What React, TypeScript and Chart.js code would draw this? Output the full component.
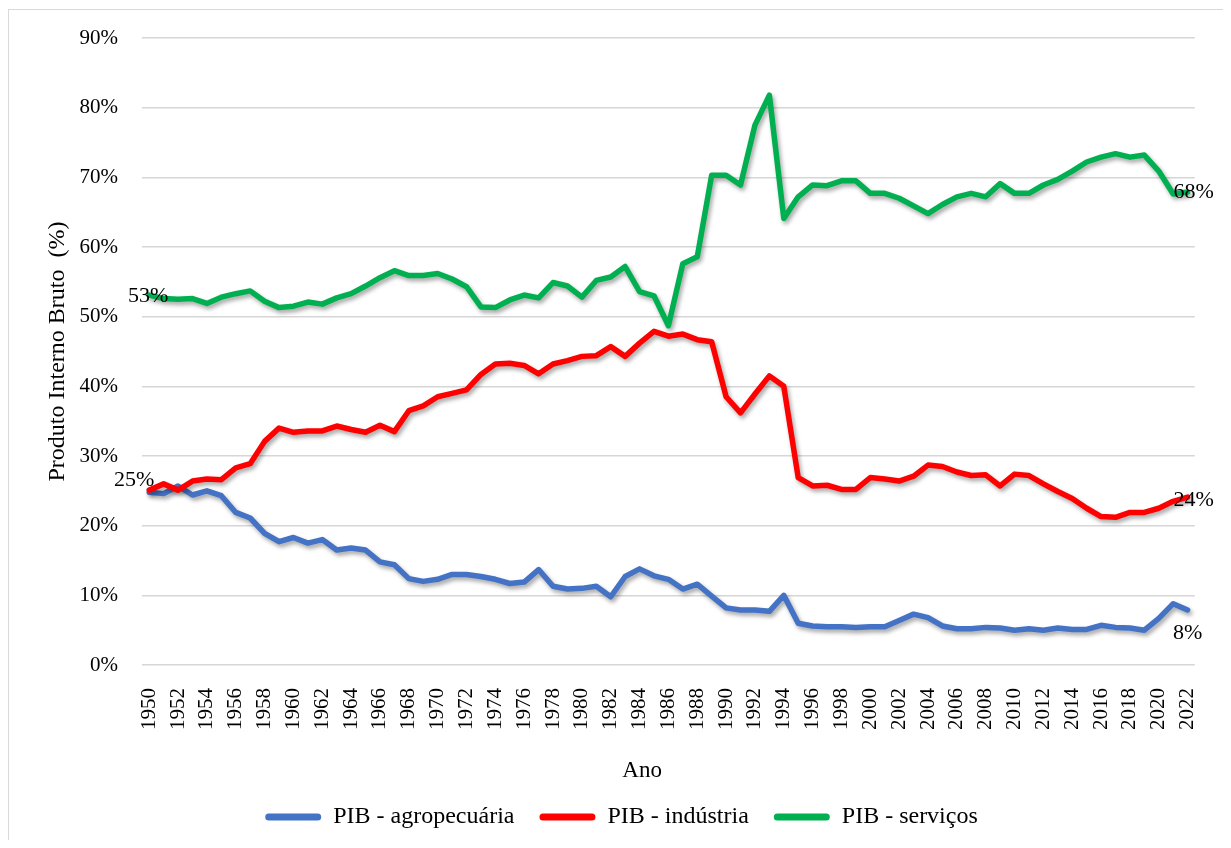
import React, { useEffect, useRef } from "react";
import { Chart, registerables } from "chart.js";

Chart.register(...registerables);

const FONT = "'Liberation Serif', 'Times New Roman', Times, serif";

const years: string[] = [
  "1950", "1951", "1952", "1953", "1954", "1955", "1956", "1957", "1958", "1959",
  "1960", "1961", "1962", "1963", "1964", "1965", "1966", "1967", "1968", "1969",
  "1970", "1971", "1972", "1973", "1974", "1975", "1976", "1977", "1978", "1979",
  "1980", "1981", "1982", "1983", "1984", "1985", "1986", "1987", "1988", "1989",
  "1990", "1991", "1992", "1993", "1994", "1995", "1996", "1997", "1998", "1999",
  "2000", "2001", "2002", "2003", "2004", "2005", "2006", "2007", "2008", "2009",
  "2010", "2011", "2012", "2013", "2014", "2015", "2016", "2017", "2018", "2019",
  "2020", "2021", "2022",
];

const agropecuaria: number[] = [
  24.8, 24.6, 25.7, 24.4, 25.0, 24.3, 21.9, 21.1, 18.9, 17.7,
  18.3, 17.5, 18.0, 16.5, 16.8, 16.5, 14.8, 14.4, 12.4, 12.0,
  12.3, 13.0, 13.0, 12.7, 12.3, 11.7, 11.9, 13.7, 11.3, 10.9,
  11.0, 11.3, 9.8, 12.7, 13.8, 12.8, 12.3, 10.9, 11.6, 9.9,
  8.2, 7.9, 7.9, 7.7, 10.0, 6.0, 5.6, 5.5, 5.5, 5.4,
  5.5, 5.5, 6.4, 7.3, 6.8, 5.6, 5.2, 5.2, 5.4, 5.3,
  5.0, 5.2, 5.0, 5.3, 5.1, 5.1, 5.7, 5.4, 5.3, 5.0,
  6.7, 8.8, 7.9,
];

const industria: number[] = [
  25.1, 26.0, 25.1, 26.4, 26.7, 26.6, 28.3, 28.9, 32.1, 34.0,
  33.4, 33.6, 33.6, 34.3, 33.8, 33.4, 34.4, 33.5, 36.5, 37.2,
  38.5, 39.0, 39.5, 41.7, 43.2, 43.3, 43.0, 41.8, 43.2, 43.7,
  44.3, 44.4, 45.7, 44.3, 46.2, 47.9, 47.2, 47.5, 46.7, 46.4,
  38.5, 36.2, 38.9, 41.5, 40.0, 26.9, 25.7, 25.8, 25.2, 25.2,
  26.9, 26.7, 26.4, 27.1, 28.7, 28.5, 27.7, 27.2, 27.3, 25.7,
  27.4, 27.2, 26.0, 24.9, 23.9, 22.5, 21.3, 21.2, 21.9, 21.9,
  22.5, 23.5, 24.1,
];

const servicos: number[] = [
  53.1, 52.6, 52.5, 52.6, 51.9, 52.8, 53.3, 53.7, 52.2, 51.3,
  51.5, 52.1, 51.8, 52.7, 53.3, 54.4, 55.6, 56.6, 55.9, 55.9,
  56.2, 55.4, 54.3, 51.4, 51.3, 52.4, 53.1, 52.7, 54.9, 54.4,
  52.8, 55.2, 55.7, 57.2, 53.6, 53.0, 48.7, 57.6, 58.6, 70.3,
  70.3, 68.9, 77.5, 81.8, 64.1, 67.2, 68.9, 68.8, 69.5, 69.5,
  67.7, 67.7, 67.0, 65.9, 64.8, 66.1, 67.2, 67.7, 67.2, 69.1,
  67.7, 67.7, 68.9, 69.7, 70.9, 72.2, 72.9, 73.4, 72.9, 73.2,
  70.9, 67.6, 67.9,
];

const seriesNames: string[] = ["PIB - agropecuária", "PIB - indústria", "PIB - serviços"];
const seriesColors: string[] = ["#4472C4", "#FF0000", "#00B050"];

const chartTitle = "1950 -2022";
const yAxisTitle = "Produto Interno Bruto  (%)";
const xAxisTitle = "Ano";

export default function App() {
  const canvasRef = useRef<HTMLCanvasElement>(null);

  useEffect(() => {
    const canvas = canvasRef.current;
    if (!canvas) return;

    const shadowPlugin = {
      id: "lineShadow",
      beforeDatasetsDraw(chart: any) {
        const c = chart.ctx;
        c.save();
        c.shadowColor = "rgba(0,0,0,0.35)";
        c.shadowBlur = 4;
        c.shadowOffsetX = 2;
        c.shadowOffsetY = 3;
      },
      afterDatasetsDraw(chart: any) {
        chart.ctx.restore();
      },
    };

    const legendShift = {
      id: "legendShift",
      afterLayout(chart: any) {
        if (chart.legend) chart.legend.left += 35;
      },
    };

    const last = years.length - 1;
    const labelPlugin = {
      id: "endLabels",
      afterDraw(chart: any) {
        const c = chart.ctx;
        const spots = [
          { ds: 2, i: 0, dx: -1, dy: 1 },
          { ds: 1, i: 0, dx: -15, dy: -10 },
          { ds: 2, i: last, dx: 6, dy: 0 },
          { ds: 1, i: last, dx: 6, dy: 3 },
          { ds: 0, i: last, dx: 0, dy: 23 },
        ];
        c.save();
        c.font = `22px ${FONT}`;
        c.fillStyle = "#000";
        c.textAlign = "center";
        c.textBaseline = "middle";
        for (const s of spots) {
          const pt = chart.getDatasetMeta(s.ds).data[s.i];
          const v = chart.data.datasets[s.ds].data[s.i] as number;
          c.fillText(`${Math.round(v)}%`, pt.x + s.dx, pt.y + s.dy);
        }
        const area = chart.chartArea;
        c.font = `23px ${FONT}`;
        c.textBaseline = "alphabetic";
        c.fillText(xAxisTitle, area.left + area.width * 0.475, area.bottom + 112);
        c.restore();
      },
    };

    const datasets = [agropecuaria, industria, servicos].map((d, k) => ({
      label: seriesNames[k],
      data: d,
      borderColor: seriesColors[k],
      backgroundColor: seriesColors[k],
      borderWidth: 5.5,
      pointRadius: 0,
      pointHoverRadius: 0,
      tension: 0,
      borderCapStyle: "round" as const,
      borderJoinStyle: "round" as const,
      fill: false,
      order: 3 - k,
    }));

    const chart = new Chart(canvas, {
      type: "line",
      data: { labels: years, datasets },
      options: {
        responsive: false,
        animation: false,
        devicePixelRatio: 1,
        layout: { padding: { left: 0, right: 29, top: 28, bottom: 1 } },
        plugins: {
          tooltip: { enabled: false },
          title: { display: false },
          legend: {
            display: true,
            position: "bottom",
            labels: {
              font: { family: FONT, size: 24 },
              color: "#000",
              boxWidth: 56,
              boxHeight: 7,
              padding: 25,
              sort: (a: any, b: any) => a.datasetIndex - b.datasetIndex,
              generateLabels: (ch: any) =>
                Chart.defaults.plugins.legend.labels
                  .generateLabels(ch)
                  .map((l: any) => ({ ...l, lineWidth: 0, borderRadius: 3.5 })),
            },
          },
        },
        scales: {
          x: {
            type: "category",
            offset: true,
            grid: { display: false },
            border: { display: false },
            ticks: {
              autoSkip: false,
              minRotation: 90,
              maxRotation: 90,
              padding: 15,
              color: "#000",
              font: { family: FONT, size: 21 },
              callback: function (this: any, value: any, index: number) {
                return index % 2 === 0 ? this.getLabelForValue(value) : "";
              },
            },
            afterFit: (scale: any) => {
              scale.height = 830 - 1 - 59 - 655;
            },
          },
          y: {
            min: 0,
            max: 90,
            grid: { color: "#d6d6d6", lineWidth: 1.5, drawTicks: false },
            border: { display: false },
            ticks: {
              stepSize: 10,
              padding: 24,
              color: "#000",
              font: { family: FONT, size: 21 },
              callback: (v: any) => `${v}%`,
            },
            title: {
              display: true,
              text: yAxisTitle,
              color: "#000",
              font: { family: FONT, size: 24 },
              padding: { top: 34, bottom: 0 },
            },
            afterFit: (scale: any) => {
              scale.width = 133;
              scale.paddingTop = 0;
              scale.paddingBottom = 0;
            },
          },
        },
      },
      plugins: [shadowPlugin, legendShift, labelPlugin],
    });

    return () => chart.destroy();
  }, []);

  return (
    <div style={{ position: "relative", height: 832 }}>
      <div
        style={{
          position: "absolute",
          left: 0,
          top: 1,
          width: 1221,
          height: 831,
          boxSizing: "border-box",
          border: "1px solid #d9d9d9",
          borderBottom: "none",
          background: "#fff",
        }}
      >
        <canvas
          ref={canvasRef}
          width={1219}
          height={830}
          style={{ display: "block", width: 1219, height: 830 }}
        />
      </div>
      <div
        style={{
          position: "absolute",
          left: 0,
          top: -28,
          width: 1208,
          textAlign: "center",
          fontFamily: FONT,
          fontWeight: "bold",
          fontSize: 28,
          lineHeight: "31px",
          whiteSpace: "nowrap",
          color: "#000",
          zIndex: 2,
        }}
      >
        {chartTitle}
      </div>
    </div>
  );
}
